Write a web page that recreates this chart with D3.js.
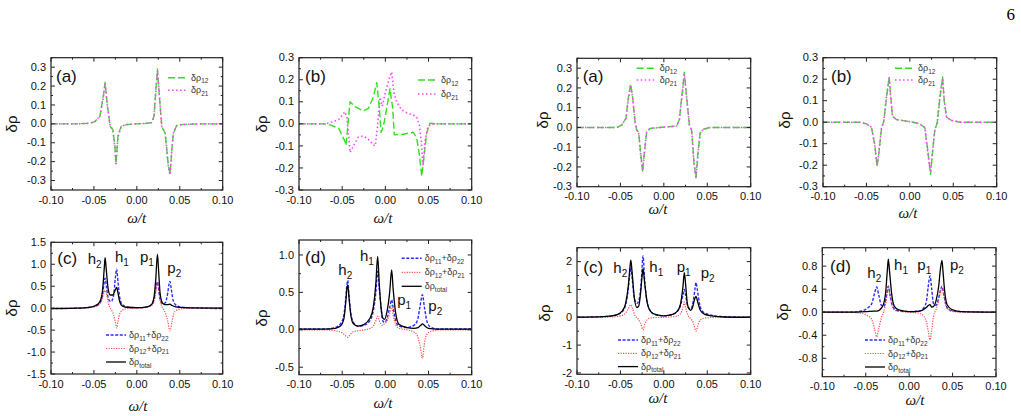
<!DOCTYPE html>
<html>
<head>
<meta charset="utf-8">
<script src="https://cdn.jsdelivr.net/npm/d3@7"></script>
<style>
  body { margin: 0; background: #fff; }
  svg text { font-family: "Liberation Sans", Arial, sans-serif; }
</style>
</head>
<body>
<div id="fig"></div>
<script>
// ---- data ----
var xTicks = [-0.10, -0.05, 0.00, 0.05, 0.10];
var xTickLabels = ["-0.10", "-0.05", "0.00", "0.05", "0.10"];

// top-left (a)
var a1_rho12 = [[-0.1,0],[-0.07,0],[-0.055,0.003],[-0.049,0.012],[-0.043,0.04],[-0.039,0.15],[-0.037,0.22],[-0.0345,0.10],[-0.031,-0.014],[-0.028,-0.03],[-0.0255,-0.12],[-0.0243,-0.21],[-0.022,-0.06],[-0.018,-0.012],[-0.012,-0.004],[0,0],[0.012,0.003],[0.017,0.006],[0.020,0.04],[0.0223,0.19],[0.024,0.29],[0.0262,0.15],[0.029,-0.014],[0.033,-0.05],[0.0367,-0.22],[0.0387,-0.265],[0.0406,-0.146],[0.0425,-0.05],[0.0464,-0.009],[0.052,-0.004],[0.07,0],[0.1,0]];
var a1_rho21 = [[-0.1,0],[-0.07,0],[-0.055,0.003],[-0.049,0.012],[-0.043,0.04],[-0.039,0.14],[-0.037,0.21],[-0.0345,0.10],[-0.031,-0.012],[-0.028,-0.03],[-0.0255,-0.13],[-0.0243,-0.22],[-0.022,-0.07],[-0.018,-0.012],[-0.012,-0.004],[0,0],[0.012,0.003],[0.017,0.006],[0.020,0.04],[0.0223,0.18],[0.024,0.28],[0.0262,0.15],[0.029,-0.012],[0.033,-0.05],[0.0367,-0.23],[0.0387,-0.27],[0.0406,-0.15],[0.0425,-0.05],[0.0464,-0.009],[0.052,-0.004],[0.07,0],[0.1,0]];

// top-left (b)
var b1_rho12 = [[-0.1,0],[-0.068,0],[-0.064,-0.005],[-0.054,-0.02],[-0.0467,-0.08],[-0.0456,-0.098],[-0.0409,0.10],[-0.0351,0.078],[-0.0255,0.059],[-0.0197,0.07],[-0.014,0.12],[-0.010,0.187],[-0.0069,0.07],[-0.005,-0.038],[-0.0023,-0.012],[0.0015,0.07],[0.0054,0.16],[0.0085,0.07],[0.0104,-0.05],[0.0208,-0.047],[0.0324,-0.038],[0.0363,-0.065],[0.0394,-0.14],[0.0421,-0.238],[0.0448,-0.15],[0.0479,-0.04],[0.0517,0.003],[0.06,0],[0.1,0]];
var b1_rho21 = [[-0.1,0],[-0.07,0],[-0.062,0.008],[-0.054,0.02],[-0.0467,0.055],[-0.0445,0.03],[-0.042,-0.08],[-0.0409,-0.13],[-0.037,-0.1],[-0.0313,-0.06],[-0.0255,-0.055],[-0.0197,-0.07],[-0.0143,-0.095],[-0.0116,-0.1],[-0.009,-0.01],[-0.0062,0.12],[-0.0035,0.08],[-0.0008,0.13],[0.004,0.2],[0.0073,0.235],[0.01,0.14],[0.0131,0.1],[0.0189,0.063],[0.0247,0.05],[0.0324,0.04],[0.0363,0.03],[0.0394,-0.005],[0.0417,-0.08],[0.0436,-0.185],[0.0463,-0.07],[0.0494,-0.01],[0.0533,-0.003],[0.06,0],[0.1,0]];

// top-right (a)
var a2_rho12 = [[-0.1,0],[-0.054,0],[-0.0486,0.012],[-0.0436,0.047],[-0.0409,0.15],[-0.0382,0.22],[-0.0359,0.15],[-0.0332,0.03],[-0.0313,-0.014],[-0.029,-0.023],[-0.0267,-0.13],[-0.0244,-0.225],[-0.0225,-0.13],[-0.0198,-0.023],[-0.016,-0.005],[-0.0044,0],[0.0148,0.007],[0.0179,0.04],[0.0205,0.15],[0.0236,0.28],[0.0263,0.15],[0.0294,0.012],[0.032,-0.014],[0.0347,-0.18],[0.037,-0.255],[0.039,-0.145],[0.0417,-0.03],[0.0455,-0.009],[0.053,0],[0.1,0]];
var a2_rho21 = [[-0.1,0],[-0.054,0],[-0.0486,0.012],[-0.0436,0.045],[-0.0409,0.14],[-0.0382,0.215],[-0.0359,0.15],[-0.0332,0.03],[-0.0313,-0.012],[-0.029,-0.025],[-0.0267,-0.14],[-0.0244,-0.22],[-0.0225,-0.13],[-0.0198,-0.023],[-0.016,-0.005],[-0.0044,0],[0.0148,0.007],[0.0179,0.04],[0.0205,0.14],[0.0236,0.27],[0.0263,0.15],[0.0294,0.012],[0.032,-0.014],[0.0347,-0.18],[0.037,-0.25],[0.039,-0.145],[0.0417,-0.03],[0.0455,-0.009],[0.053,0],[0.1,0]];

// top-right (b)
var b2_rho12 = [[-0.1,0],[-0.0577,0],[-0.05,-0.008],[-0.0442,-0.023],[-0.0404,-0.104],[-0.0377,-0.205],[-0.0354,-0.135],[-0.0327,-0.03],[-0.03,0.005],[-0.0269,0.113],[-0.0238,0.212],[-0.0219,0.113],[-0.02,0.028],[-0.0154,0.012],[-0.0038,0.005],[0.0038,0],[0.0115,-0.008],[0.0173,-0.026],[0.0212,-0.15],[0.0238,-0.243],[0.0262,-0.135],[0.0288,-0.034],[0.0315,-0.003],[0.0346,0.113],[0.0377,0.21],[0.0396,0.098],[0.0423,0.023],[0.0481,0.008],[0.0577,0],[0.1,0]];
var b2_rho21 = [[-0.1,0],[-0.0577,0],[-0.05,-0.008],[-0.0442,-0.023],[-0.0404,-0.11],[-0.0377,-0.2],[-0.0354,-0.13],[-0.0327,-0.03],[-0.03,0.005],[-0.0269,0.12],[-0.0238,0.205],[-0.0219,0.11],[-0.02,0.028],[-0.0154,0.012],[-0.0038,0.005],[0.0038,0],[0.0115,-0.008],[0.0173,-0.026],[0.0212,-0.16],[0.0238,-0.235],[0.0262,-0.13],[0.0288,-0.034],[0.0315,-0.003],[0.0346,0.12],[0.0377,0.205],[0.0396,0.1],[0.0423,0.023],[0.0481,0.008],[0.0577,0],[0.1,0]];

// bottom-left (c)
var c1_diag = [[-0.1,-0.01],[-0.07,0.0],[-0.055,0.02],[-0.048,0.05],[-0.043,0.12],[-0.040,0.3],[-0.038,0.6],[-0.037,0.68],[-0.0355,0.5],[-0.033,0.2],[-0.030,0.15],[-0.027,0.3],[-0.025,0.7],[-0.0235,0.89],[-0.022,0.6],[-0.020,0.25],[-0.017,0.08],[-0.012,0.03],[0,0.01],[0.012,0.03],[0.018,0.1],[0.021,0.3],[0.023,0.55],[0.024,0.6],[0.025,0.5],[0.027,0.2],[0.030,0.1],[0.033,0.12],[0.036,0.35],[0.0375,0.55],[0.0386,0.61],[0.040,0.45],[0.042,0.2],[0.045,0.08],[0.05,0.03],[0.06,0.01],[0.1,-0.01]];
var c1_offd = [[-0.1,0],[-0.06,0.01],[-0.05,0.03],[-0.045,0.07],[-0.041,0.17],[-0.039,0.3],[-0.037,0.4],[-0.035,0.3],[-0.033,0.1],[-0.031,0.0],[-0.029,-0.06],[-0.027,-0.15],[-0.025,-0.33],[-0.0235,-0.45],[-0.022,-0.3],[-0.02,-0.13],[-0.017,-0.05],[-0.012,-0.015],[0,0],[0.012,0.02],[0.017,0.06],[0.02,0.15],[0.022,0.35],[0.024,0.6],[0.026,0.33],[0.028,0.1],[0.031,-0.02],[0.033,-0.1],[0.036,-0.3],[0.0386,-0.52],[0.041,-0.3],[0.043,-0.13],[0.046,-0.05],[0.052,-0.015],[0.065,0],[0.1,0]];
var c1_total = [[-0.1,-0.01],[-0.07,0],[-0.055,0.02],[-0.048,0.06],[-0.043,0.15],[-0.040,0.4],[-0.038,0.9],[-0.037,1.15],[-0.0355,0.85],[-0.0335,0.45],[-0.031,0.3],[-0.028,0.3],[-0.0255,0.4],[-0.0235,0.47],[-0.022,0.35],[-0.02,0.15],[-0.017,0.05],[-0.012,0.02],[0,0.01],[0.012,0.03],[0.017,0.08],[0.02,0.25],[0.022,0.65],[0.024,1.23],[0.0255,0.8],[0.027,0.35],[0.029,0.15],[0.032,0.08],[0.036,0.08],[0.0386,0.09],[0.041,0.06],[0.045,0.03],[0.055,0.01],[0.1,0]];

// bottom-left (d)
var d1_diag = [[-0.1,0.01],[-0.07,0.01],[-0.058,0.03],[-0.052,0.08],[-0.048,0.2],[-0.046,0.4],[-0.0445,0.6],[-0.0436,0.66],[-0.042,0.45],[-0.040,0.22],[-0.037,0.1],[-0.032,0.05],[-0.025,0.06],[-0.018,0.12],[-0.014,0.25],[-0.011,0.5],[-0.0089,0.78],[-0.007,0.55],[-0.005,0.3],[-0.003,0.12],[-0.001,0.1],[0.002,0.15],[0.005,0.3],[0.0073,0.4],[0.009,0.3],[0.012,0.12],[0.016,0.05],[0.025,0.03],[0.033,0.06],[0.037,0.12],[0.04,0.3],[0.043,0.47],[0.045,0.32],[0.048,0.12],[0.052,0.04],[0.06,0.01],[0.08,0.01],[0.1,0.01]];
var d1_offd = [[-0.1,0],[-0.07,0],[-0.055,-0.02],[-0.05,-0.04],[-0.047,-0.07],[-0.0436,-0.1],[-0.041,-0.07],[-0.038,-0.03],[-0.03,-0.01],[-0.02,0.01],[-0.014,0.05],[-0.011,0.12],[-0.0089,0.18],[-0.007,0.12],[-0.004,0.06],[-0.002,0.07],[0.002,0.12],[0.005,0.22],[0.0073,0.32],[0.009,0.2],[0.012,0.07],[0.016,0.02],[0.025,0],[0.033,-0.03],[0.037,-0.08],[0.04,-0.2],[0.043,-0.38],[0.045,-0.2],[0.048,-0.06],[0.053,-0.02],[0.065,0],[0.1,0]];
var d1_total = [[-0.1,0.01],[-0.07,0.01],[-0.058,0.02],[-0.052,0.05],[-0.048,0.15],[-0.046,0.35],[-0.0445,0.55],[-0.0436,0.6],[-0.042,0.42],[-0.04,0.2],[-0.037,0.08],[-0.032,0.05],[-0.025,0.07],[-0.018,0.15],[-0.014,0.3],[-0.011,0.62],[-0.0089,0.98],[-0.007,0.6],[-0.005,0.3],[-0.003,0.16],[-0.001,0.14],[0.002,0.25],[0.005,0.5],[0.0073,0.8],[0.009,0.55],[0.012,0.22],[0.016,0.07],[0.025,0.03],[0.033,0.02],[0.038,0.03],[0.041,0.06],[0.043,0.08],[0.045,0.06],[0.05,0.02],[0.06,0.01],[0.1,0.01]];

// bottom-right (c)
var c2_diag = [[-0.1,0],[-0.07,0.02],[-0.055,0.08],[-0.048,0.2],[-0.044,0.45],[-0.041,1.0],[-0.039,1.6],[-0.038,1.8],[-0.0365,1.4],[-0.034,0.7],[-0.031,0.5],[-0.028,0.7],[-0.026,1.3],[-0.024,2.2],[-0.022,1.3],[-0.019,0.5],[-0.015,0.2],[-0.01,0.1],[0,0.05],[0.01,0.1],[0.015,0.2],[0.019,0.4],[0.022,0.8],[0.0236,1.0],[0.025,0.8],[0.028,0.35],[0.031,0.3],[0.034,0.6],[0.036,1.05],[0.037,1.25],[0.0385,1.0],[0.041,0.5],[0.045,0.2],[0.055,0.07],[0.07,0.02],[0.1,0]];
var c2_offd = [[-0.1,0],[-0.06,0.01],[-0.05,0.05],[-0.045,0.12],[-0.041,0.3],[-0.038,0.45],[-0.036,0.3],[-0.033,0.05],[-0.03,-0.05],[-0.027,-0.2],[-0.024,-0.45],[-0.022,-0.25],[-0.019,-0.08],[-0.014,-0.02],[0,0],[0.014,0.03],[0.019,0.12],[0.022,0.35],[0.0236,0.55],[0.025,0.35],[0.028,0.05],[0.031,-0.05],[0.034,-0.2],[0.037,-0.5],[0.039,-0.3],[0.042,-0.1],[0.047,-0.03],[0.06,0],[0.1,0]];
var c2_total = [[-0.1,0],[-0.07,0.02],[-0.055,0.08],[-0.048,0.22],[-0.044,0.5],[-0.041,1.1],[-0.039,1.8],[-0.038,2.05],[-0.0365,1.6],[-0.034,0.7],[-0.031,0.35],[-0.029,0.4],[-0.027,0.8],[-0.025,1.5],[-0.024,1.75],[-0.022,1.2],[-0.019,0.5],[-0.015,0.2],[-0.01,0.1],[0,0.05],[0.01,0.1],[0.015,0.2],[0.019,0.45],[0.022,1.1],[0.0236,1.6],[0.025,1.2],[0.027,0.5],[0.029,0.3],[0.031,0.25],[0.033,0.35],[0.035,0.6],[0.037,0.75],[0.039,0.55],[0.042,0.25],[0.047,0.1],[0.055,0.05],[0.07,0.01],[0.1,0]];

// bottom-right (d)
var d2_diag = [[-0.1,0],[-0.07,0],[-0.055,0.02],[-0.048,0.07],[-0.043,0.15],[-0.04,0.32],[-0.0374,0.44],[-0.035,0.3],[-0.032,0.12],[-0.029,0.1],[-0.026,0.3],[-0.024,0.45],[-0.022,0.3],[-0.019,0.1],[-0.014,0.03],[0,0.01],[0.012,0.02],[0.017,0.08],[0.02,0.2],[0.022,0.45],[0.024,0.63],[0.026,0.4],[0.028,0.15],[0.031,0.12],[0.034,0.25],[0.036,0.38],[0.0378,0.45],[0.04,0.3],[0.043,0.1],[0.048,0.03],[0.06,0.01],[0.1,0]];
var d2_offd = [[-0.1,0],[-0.07,0],[-0.055,-0.02],[-0.048,-0.06],[-0.043,-0.13],[-0.04,-0.28],[-0.0374,-0.43],[-0.035,-0.28],[-0.032,-0.1],[-0.029,0.02],[-0.026,0.25],[-0.024,0.45],[-0.022,0.28],[-0.019,0.08],[-0.014,0.02],[0,0],[0.012,-0.02],[0.017,-0.07],[0.02,-0.18],[0.022,-0.33],[0.024,-0.48],[0.026,-0.3],[0.028,-0.08],[0.031,0.05],[0.034,0.2],[0.036,0.33],[0.0378,0.42],[0.04,0.28],[0.043,0.08],[0.048,0.02],[0.06,0],[0.1,0]];
var d2_total = [[-0.1,0],[-0.07,0],[-0.05,0.01],[-0.04,0.02],[-0.0374,0.02],[-0.034,0.04],[-0.03,0.12],[-0.027,0.35],[-0.025,0.75],[-0.024,0.92],[-0.0225,0.7],[-0.02,0.3],[-0.017,0.1],[-0.012,0.04],[0,0.01],[0.012,0.02],[0.018,0.06],[0.021,0.1],[0.024,0.13],[0.026,0.09],[0.028,0.1],[0.031,0.2],[0.034,0.45],[0.036,0.75],[0.0378,0.9],[0.039,0.7],[0.041,0.35],[0.044,0.12],[0.05,0.04],[0.06,0.01],[0.1,0]];

// y ticks and peak labels
var yTicksA1 = [-0.3,-0.2,-0.1,0.0,0.1,0.2,0.3];
var yTicksC1 = [-1.5,-1.0,-0.5,0.0,0.5,1.0,1.5];
var yTicksD1 = [-0.5,0.0,0.5,1.0];
var yTicksC2 = [-2,-1,0,1,2];
var yTicksD2 = [-0.8,-0.4,0.0,0.4,0.8];
var peakLabels = ["h2","h1","p1","p2"];

// ---- styles ----
var STY = {
  g:  {color:"#33dd22", dash:"7,3", w:1.4},
  m:  {color:"#ff44ff", dash:"1.5,2.5", w:1.6},
  b:  {color:"#2a2aff", dash:"3,1.6", w:1.4},
  r:  {color:"#ff4a4a", dash:"1.2,1.3", w:1.2},
  k:  {color:"#000000", dash:null, w:1.3}
};

var W = 1021, H = 416;
var svg = d3.select("#fig").append("svg").attr("width", W).attr("height", H);

svg.append("text").attr("x", 1015).attr("y", 20).attr("text-anchor","end")
  .style("font-family","'Liberation Serif', serif").style("font-size","17px").text("6");

var panels = [
  {id:"p1", box:[51,57.7,222.7,190], yd:[-0.35,0.35], yt:yTicksA1, yf:".1f", ym:0.05, tag:"(a)", tagAt:[-0.0942,0.223],
   series:[{d:a1_rho12,s:"g",n:"12"},{d:a1_rho21,s:"m",n:"21"}], leg:[117,20,12.5], curve:"lin",
   ylab:[11.7,124], xlab:[136.7,223]},
  {id:"p2", box:[299,57.7,471.7,190], yd:[-0.3,0.3], yt:yTicksA1, yf:".1f", ym:0.05, tag:"(b)", tagAt:[-0.093,0.191],
   series:[{d:b1_rho12,s:"g",n:"12"},{d:b1_rho21,s:"m",n:"21"}], leg:[119,22.3,14], curve:"lin",
   ylab:[261.7,124], xlab:[383,223]},
  {id:"p3", box:[577,58.3,750.7,186.7], yd:[-0.3,0.35], yt:yTicksA1, yf:".1f", ym:0.05, tag:"(a)", tagAt:[-0.0935,0.232],
   series:[{d:a2_rho12,s:"g",n:"12"},{d:a2_rho21,s:"m",n:"21"}], leg:[59.7,10,11.7], curve:"lin",
   ylab:[543,120], xlab:[658,214]},
  {id:"p4", box:[823,57.7,996.7,186.7], yd:[-0.3,0.3], yt:yTicksA1, yf:".1f", ym:0.05, tag:"(b)", tagAt:[-0.0908,0.188],
   series:[{d:b2_rho12,s:"g",n:"12"},{d:b2_rho21,s:"m",n:"21"}], leg:[72,10.6,11.7], curve:"lin",
   ylab:[785,120], xlab:[908,218]},
  {id:"p5", box:[51,242.3,222.7,374], yd:[-1.5,1.5], yt:yTicksC1, yf:".1f", ym:0.25, tag:"(c)", tagAt:[-0.0927,1.0],
   series:[{d:c1_diag,s:"b",n:"11+22"},{d:c1_offd,s:"r",n:"12+21"},{d:c1_total,s:"k",n:"total"}], leg:[55,92.7,13.5], curve:"mono",
   peaks:[[-0.0573,1.0],[-0.0255,1.045],[0.0037,1.06],[0.0355,0.81]],
   ylab:[11.7,308], xlab:[138,411]},
  {id:"p6", box:[299,240,471.7,374.7], yd:[-0.6,1.2], yt:yTicksD1, yf:".1f", ym:0.25, tag:"(d)", tagAt:[-0.093,0.888],
   series:[{d:d1_diag,s:"b",n:"11+22"},{d:d1_offd,s:"r",n:"12+21"},{d:d1_total,s:"k",n:"total"}], leg:[102.7,18.3,14], curve:"mono",
   peaks:[[-0.0545,0.732],[-0.0294,0.92],[0.0138,0.331],[0.0498,0.251]],
   ylab:[261.7,318], xlab:[383,408]},
  {id:"p7", box:[577,247.7,750.7,374.3], yd:[-2.05,2.5], yt:yTicksC2, yf:"d", ym:0.5, tag:"(c)", tagAt:[-0.0927,1.6],
   series:[{d:c2_diag,s:"b",n:"11+22"},{d:c2_offd,s:"r",n:"12+21"},{d:c2_total,s:"k",n:"total"}], leg:[41,92.3,13.3], curve:"mono",
   peaks:[[-0.0582,1.6],[-0.0167,1.64],[0.0148,1.64],[0.0424,1.4]],
   ylab:[545,313], xlab:[658,403]},
  {id:"p8", box:[822.3,247.7,996,376.7], yd:[-1.12,1.12], yt:yTicksD2, yf:".1f", ym:0.2, tag:"(d)", tagAt:[-0.0911,0.703],
   series:[{d:d2_diag,s:"b",n:"11+22"},{d:d2_offd,s:"r",n:"12+21"},{d:d2_total,s:"k",n:"total"}], leg:[42.7,92.3,13.5], curve:"mono",
   peaks:[[-0.0482,0.589],[-0.0174,0.733],[0.0094,0.733],[0.047,0.733]],
   ylab:[783,312], xlab:[915,405]}
];

function fmtNum(f) {
  var ff = d3.format(f);
  return function(v){ return ff(v).replace("\u2212","-"); };
}

panels.forEach(function(P){
  var x0=P.box[0], y0=P.box[1], x1=P.box[2], y1=P.box[3];
  var x = d3.scaleLinear().domain([-0.1,0.1]).range([x0,x1]);
  var y = d3.scaleLinear().domain(P.yd).range([y1,y0]);
  var g = svg.append("g").attr("id", P.id);

  g.append("clipPath").attr("id","clip-"+P.id).append("rect")
    .attr("x",x0).attr("y",y0).attr("width",x1-x0).attr("height",y1-y0);

  // curves
  var line = d3.line().x(function(d){return x(d[0]);}).y(function(d){return y(d[1]);})
    .curve(P.curve=="mono" ? d3.curveMonotoneX : d3.curveLinear);
  var cg = g.append("g").attr("clip-path","url(#clip-"+P.id+")");
  P.series.forEach(function(S){
    var st = STY[S.s];
    cg.append("path").datum(S.d).attr("d", line)
      .attr("fill","none").attr("stroke", st.color).attr("stroke-width", st.w)
      .attr("stroke-dasharray", st.dash).attr("stroke-linejoin","round");
  });

  // ticks (inward, all sides)
  var xMinor = d3.range(-0.1, 0.1001, 0.025);
  var tk = g.append("g").attr("stroke","#222").attr("stroke-width",1);
  xMinor.forEach(function(v, i){
    var len = (i % 2 == 0) ? 4 : 2;
    tk.append("line").attr("x1",x(v)).attr("x2",x(v)).attr("y1",y1).attr("y2",y1-len);
    tk.append("line").attr("x1",x(v)).attr("x2",x(v)).attr("y1",y0).attr("y2",y0+len);
  });
  var step = P.yt[1]-P.yt[0];
  var yAll = [];
  for (var v = P.yt[0]-step; v <= P.yt[P.yt.length-1]+step+1e-9; v += P.ym) yAll.push(+v.toFixed(4));
  yAll.forEach(function(v){
    if (v < P.yd[0]-1e-9 || v > P.yd[1]+1e-9) return;
    var major = P.yt.some(function(t){return Math.abs(t-v)<1e-6;});
    var len = major ? 4 : 2;
    tk.append("line").attr("x1",x0).attr("x2",x0+len).attr("y1",y(v)).attr("y2",y(v));
    tk.append("line").attr("x1",x1).attr("x2",x1-len).attr("y1",y(v)).attr("y2",y(v));
  });

  // frame
  g.append("rect").attr("x",x0).attr("y",y0).attr("width",x1-x0).attr("height",y1-y0)
    .attr("fill","none").attr("stroke","#222").attr("stroke-width",1.2);

  // tick labels
  var f = fmtNum(P.yf);
  P.yt.forEach(function(v){
    g.append("text").attr("x",x0-5).attr("y",y(v)).attr("dy","0.33em")
      .attr("text-anchor","end").style("font-size","11px").attr("fill","#111").text(f(v));
  });
  xTicks.forEach(function(v,i){
    g.append("text").attr("x",x(v)).attr("y",y1+13.5).attr("text-anchor","middle")
      .style("font-size","11px").attr("fill","#111").text(xTickLabels[i]);
  });

  // axis titles
  g.append("text").attr("transform","translate("+(P.ylab[0]+5)+","+P.ylab[1]+") rotate(-90)")
    .attr("text-anchor","middle").style("font-size","15px").attr("fill","#111").text("\u03b4\u03c1");
  g.append("text").attr("x",P.xlab[0]).attr("y",P.xlab[1]).attr("text-anchor","middle")
    .style("font-family","'Liberation Serif', serif").style("font-style","italic").style("font-size","15px")
    .attr("fill","#111").text("\u03c9/t");

  // panel tag
  g.append("text").attr("x",x(P.tagAt[0])).attr("y",y(P.tagAt[1]))
    .style("font-size","17px").attr("fill","#111").text(P.tag);

  // peak labels
  if (P.peaks) {
    P.peaks.forEach(function(pk, i){
      var t = g.append("text").attr("x",x(pk[0])).attr("y",y(pk[1]))
        .style("font-size","15px").attr("fill","#111");
      t.append("tspan").text(peakLabels[i][0]);
      t.append("tspan").style("font-size","10px").attr("dy","4").text(peakLabels[i][1]);
    });
  }

  // legend
  var lg = g.append("g");
  P.series.forEach(function(S, i){
    var st = STY[S.s];
    var ly = y0 + P.leg[1] + i*P.leg[2];
    var lx = x0 + P.leg[0];
    lg.append("line").attr("x1",lx).attr("x2",lx+20).attr("y1",ly).attr("y2",ly)
      .attr("stroke",st.color).attr("stroke-width",st.w).attr("stroke-dasharray",st.dash);
    var t = lg.append("text").attr("x",lx+23).attr("y",ly+3).style("font-size","9px").attr("fill","#333");
    var parts = S.n.split("+");
    parts.forEach(function(p, j){
      t.append("tspan").style("font-size","9px").attr("dy", j>0 ? "-2.5" : "0").text((j>0?"+":"")+"\u03b4\u03c1");
      t.append("tspan").style("font-size","6.5px").attr("dy","2.5").text(p);
    });
  });
});
</script>
</body>
</html>
